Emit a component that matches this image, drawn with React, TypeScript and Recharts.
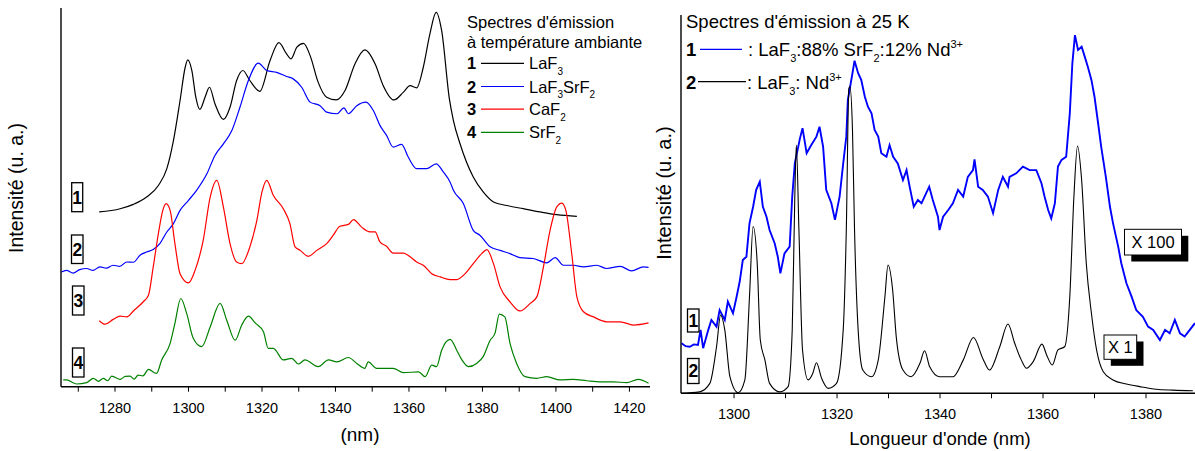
import React from 'react';
import { LineChart, Line, XAxis, YAxis } from 'recharts';

const FONT = '"Liberation Sans", Arial, Helvetica, sans-serif';

// ---------- axis ticks ----------
const leftTicksX = [1270, 1280, 1290, 1300, 1310, 1320, 1330, 1340, 1350, 1360, 1370, 1380, 1390, 1400, 1410, 1420];
const leftLabelsX = [1280, 1300, 1320, 1340, 1360, 1380, 1400, 1420];
const leftTicksY = [0, 1, 2, 3, 4, 5, 6, 7, 8, 9, 10, 11, 12, 13, 14];
const rightTicksX = [1300, 1310, 1320, 1330, 1340, 1350, 1360, 1370, 1380, 1390];
const rightLabelsX = [1300, 1320, 1340, 1360, 1380];
const rightTicksY = [0, 1, 2, 3, 4, 5, 6, 7, 8, 9, 10, 11, 12];

// ---------- left panel: room temperature spectra (nm, offset intensity) ----------
const laf3Room: [number, number][] = [
  [1275.7, 6.46], [1281.4, 6.58], [1285.0, 6.74], [1288.6, 7.01], [1291.8, 7.44], [1294.1, 8.06], [1295.9, 9.1],
  [1297.7, 10.58], [1299.1, 11.81], [1299.8, 12.08], [1300.9, 11.69], [1302.0, 10.7], [1303.1, 10.25], [1304.5, 10.7],
  [1305.7, 11.07], [1307.2, 10.46], [1309.5, 9.88], [1311.3, 10.33], [1313.1, 11.32], [1314.8, 11.69], [1316.7, 11.32],
  [1319.4, 10.92], [1322.2, 12.06], [1324.6, 12.72], [1326.7, 12.3], [1327.9, 12.12], [1329.5, 12.55], [1331.3, 12.69],
  [1333.1, 12.24], [1335.3, 11.25], [1337.6, 10.7], [1340.2, 10.6], [1342.6, 10.95], [1345.3, 11.93], [1348.0, 12.45],
  [1350.8, 11.93], [1353.0, 11.13], [1355.9, 10.6], [1358.5, 10.89], [1360.3, 11.13], [1362.1, 11.05], [1363.9, 11.81],
  [1365.7, 13.04], [1367.4, 13.84], [1368.9, 13.16], [1371.0, 10.64], [1372.1, 9.84], [1373.9, 8.98], [1377.5, 7.75],
  [1380.2, 7.2], [1383.0, 6.83], [1386.6, 6.7], [1391.1, 6.58], [1395.7, 6.46], [1400.2, 6.36], [1405.7, 6.3],
];

const laf3srf2Room: [number, number][] = [
  [1265.4, 4.24], [1266.8, 4.3], [1268.6, 4.2], [1270.4, 4.33], [1272.3, 4.37], [1274.0, 4.3], [1275.9, 4.43], [1277.6, 4.38],
  [1279.5, 4.49], [1281.3, 4.45], [1283.2, 4.61], [1285.0, 4.6], [1286.8, 4.86], [1288.6, 4.98], [1290.4, 5.07], [1292.2, 5.29],
  [1294.1, 5.72], [1295.9, 6.03], [1297.7, 6.52], [1300.0, 6.89], [1302.2, 7.26], [1305.0, 7.87], [1307.2, 8.55],
  [1309.5, 8.98], [1311.8, 9.47], [1314.0, 10.33], [1316.3, 11.32], [1319.0, 11.96], [1321.3, 11.69], [1324.0, 11.62],
  [1326.7, 11.47], [1328.5, 11.38], [1330.8, 11.07], [1333.1, 10.52], [1335.8, 10.39], [1337.6, 10.15], [1340.4, 10.09],
  [1342.3, 10.31], [1343.5, 10.09], [1345.8, 10.39], [1348.3, 10.52], [1350.3, 10.21], [1352.1, 9.66], [1353.9, 9.29],
  [1355.7, 8.86], [1358.0, 8.96], [1359.8, 8.49], [1362.1, 8.06], [1364.8, 8.06], [1367.4, 8.24], [1369.4, 7.93],
  [1371.2, 7.56], [1372.1, 7.26], [1374.8, 6.77], [1377.5, 5.78], [1379.3, 5.6], [1382.1, 5.17], [1384.8, 5.04],
  [1387.5, 4.92], [1390.2, 4.77], [1393.8, 4.74], [1397.5, 4.58], [1399.8, 4.77], [1402.0, 4.49], [1404.7, 4.49],
  [1407.5, 4.43], [1411.1, 4.49], [1413.8, 4.37], [1417.5, 4.45], [1420.6, 4.28], [1423.8, 4.43], [1425.2, 4.41],
];

const caf2Room: [number, number][] = [
  [1275.7, 2.44], [1277.3, 2.31], [1279.5, 2.49], [1281.4, 2.61], [1283.2, 2.58], [1285.0, 2.8], [1287.7, 3.14],
  [1289.1, 3.38], [1290.4, 4.43], [1291.8, 5.66], [1293.0, 6.52], [1293.9, 6.77], [1295.0, 6.52], [1296.3, 5.29],
  [1297.7, 4.18], [1300.0, 3.84], [1301.8, 4.31], [1304.0, 5.41], [1305.9, 7.01], [1307.7, 7.63], [1309.5, 6.64],
  [1311.3, 5.29], [1313.1, 4.61], [1314.5, 4.55], [1316.7, 5.17], [1318.6, 6.15], [1320.0, 7.2], [1321.3, 7.63],
  [1323.1, 7.07], [1325.8, 6.58], [1327.6, 6.03], [1329.0, 5.17], [1330.4, 5.04], [1332.6, 4.82], [1334.9, 5.04],
  [1337.6, 5.29], [1339.4, 5.6], [1341.2, 5.93], [1343.5, 6.0], [1344.9, 6.18], [1347.1, 5.9], [1349.4, 5.72],
  [1350.8, 5.72], [1352.1, 5.35], [1353.9, 5.19], [1355.7, 4.94], [1358.5, 4.94], [1360.3, 4.8], [1362.1, 4.61],
  [1363.9, 4.49], [1366.2, 4.18], [1368.5, 4.06], [1371.2, 3.96], [1373.0, 3.96], [1375.3, 4.18], [1377.5, 4.55],
  [1379.8, 4.92], [1381.2, 5.07], [1383.0, 4.55], [1384.8, 3.69], [1387.5, 3.14], [1390.2, 2.8], [1393.0, 3.08],
  [1394.8, 3.32], [1396.6, 4.43], [1398.4, 5.78], [1400.2, 6.64], [1401.6, 6.79], [1402.7, 6.52], [1404.3, 4.92],
  [1405.7, 3.32], [1407.5, 2.77], [1410.2, 2.58], [1413.8, 2.4], [1417.5, 2.4], [1421.1, 2.28], [1425.2, 2.36],
];

const srf2Room: [number, number][] = [
  [1265.9, 0.25], [1266.8, 0.25], [1269.6, 0.1], [1272.3, 0.15], [1274.1, 0.31], [1275.5, 0.2], [1276.8, 0.31],
  [1278.0, 0.22], [1279.1, 0.39], [1281.4, 0.27], [1282.8, 0.38], [1284.1, 0.39], [1285.2, 0.28], [1286.3, 0.43],
  [1287.6, 0.4], [1289.1, 0.64], [1291.3, 0.49], [1292.7, 0.99], [1295.0, 1.6], [1296.3, 2.34], [1297.9, 3.26],
  [1299.5, 2.71], [1301.3, 1.79], [1303.6, 1.48], [1305.9, 2.21], [1308.6, 3.08], [1310.4, 2.46], [1312.7, 1.72],
  [1314.5, 2.28], [1316.3, 2.61], [1318.2, 2.35], [1320.4, 2.03], [1321.7, 1.42], [1323.1, 1.42], [1325.8, 0.99],
  [1328.1, 1.05], [1329.9, 0.84], [1331.7, 0.99], [1335.3, 0.74], [1338.1, 0.99], [1340.4, 0.92], [1343.5, 1.08],
  [1345.8, 0.86], [1348.0, 0.68], [1348.9, 0.92], [1351.2, 0.68], [1353.5, 0.68], [1355.7, 0.68], [1358.5, 0.52],
  [1362.6, 0.55], [1364.4, 0.37], [1366.2, 0.8], [1367.5, 0.74], [1368.9, 1.35], [1371.2, 1.75], [1373.0, 1.35],
  [1374.4, 0.99], [1376.2, 0.74], [1378.4, 0.86], [1380.2, 1.11], [1382.1, 1.72], [1383.4, 1.97], [1384.6, 2.68],
  [1386.1, 2.58], [1387.5, 1.6], [1389.3, 0.86], [1391.6, 0.37], [1394.8, 0.31], [1397.5, 0.37], [1401.1, 0.25],
  [1404.7, 0.27], [1408.4, 0.22], [1412.0, 0.18], [1415.6, 0.18], [1419.3, 0.15], [1422.4, 0.27], [1425.2, 0.13],
];

// ---------- right panel: 25 K spectra ----------
const mixed25K: [number, number][] = [
  [1289.8, 1.72], [1290.6, 1.62], [1291.4, 1.6], [1292.2, 1.68], [1293.0, 1.66], [1293.5, 2.18], [1294.0, 1.55],
  [1295.0, 2.18], [1295.6, 2.52], [1296.6, 2.29], [1297.2, 2.86], [1298.2, 2.52], [1298.8, 3.15], [1299.8, 2.75],
  [1300.5, 3.32], [1301.1, 3.84], [1301.7, 4.58], [1302.4, 4.69], [1303.0, 5.84], [1303.7, 6.41], [1304.3, 6.99],
  [1305.0, 7.27], [1305.6, 6.41], [1306.3, 6.07], [1306.9, 5.61], [1307.9, 5.15], [1308.5, 4.69], [1309.0, 4.12],
  [1309.8, 4.81], [1310.8, 5.04], [1311.3, 6.76], [1311.8, 7.9], [1312.8, 8.76], [1313.3, 9.11], [1314.1, 8.25],
  [1315.0, 8.53], [1316.0, 8.82], [1316.6, 9.16], [1317.3, 8.47], [1317.9, 6.99], [1318.9, 6.53], [1319.6, 5.96],
  [1320.5, 6.76], [1321.2, 7.9], [1321.8, 8.82], [1322.1, 10.08], [1323.0, 11.0], [1323.4, 11.43], [1324.1, 11.0],
  [1324.7, 10.77], [1325.4, 10.19], [1326.0, 9.85], [1326.7, 9.62], [1327.3, 9.05], [1328.0, 8.82], [1328.6, 8.25],
  [1329.6, 8.13], [1330.2, 8.53], [1330.9, 8.13], [1331.8, 7.9], [1332.8, 7.33], [1333.5, 7.67], [1334.1, 7.1],
  [1334.9, 6.41], [1335.7, 6.64], [1336.4, 6.53], [1337.0, 6.76], [1337.9, 7.1], [1338.6, 6.64], [1339.6, 6.07],
  [1339.9, 5.61], [1340.6, 6.07], [1341.6, 6.3], [1342.5, 6.53], [1343.5, 6.99], [1344.5, 6.76], [1345.4, 7.44],
  [1346.4, 7.67], [1346.7, 8.04], [1347.4, 7.1], [1348.3, 6.99], [1349.3, 6.76], [1350.3, 6.19], [1351.3, 6.99],
  [1352.2, 7.44], [1353.2, 7.1], [1353.5, 7.44], [1354.8, 7.56], [1356.1, 7.79], [1357.4, 7.67], [1358.7, 7.67],
  [1359.7, 7.22], [1360.3, 6.76], [1361.0, 6.3], [1361.6, 6.01], [1362.3, 6.53], [1362.9, 7.79], [1363.6, 8.02],
  [1364.5, 8.13], [1365.2, 9.62], [1365.7, 11.34], [1366.2, 12.31], [1366.8, 11.8], [1367.5, 11.91], [1368.1, 11.57],
  [1368.7, 11.22], [1369.4, 10.77], [1370.0, 10.19], [1370.7, 9.28], [1371.3, 8.47], [1372.2, 7.44], [1373.0, 6.41],
  [1373.6, 5.84], [1374.6, 5.04], [1375.2, 4.47], [1376.2, 3.78], [1377.2, 3.32], [1378.1, 2.86], [1379.4, 2.63],
  [1380.4, 2.29], [1381.4, 2.18], [1382.7, 1.83], [1383.7, 2.18], [1384.6, 2.06], [1385.6, 2.52], [1386.6, 2.06],
  [1387.5, 1.95], [1388.5, 2.18], [1389.5, 2.41],
];

const laf3Nd25K: [number, number][] = [
  [1289.7, 0.0], [1293.3, 0.05], [1295.3, 0.34], [1296.6, 1.6], [1297.4, 2.69], [1298.2, 2.18], [1299.2, 0.57],
  [1300.8, 0.02], [1302.1, 0.46], [1303.0, 3.32], [1303.7, 5.73], [1304.5, 4.47], [1305.1, 1.83], [1306.0, 1.14],
  [1306.9, 0.34], [1308.9, 0.05], [1310.5, 0.23], [1311.3, 2.18], [1311.8, 6.76], [1312.1, 8.53], [1312.6, 5.61],
  [1313.3, 1.49], [1314.4, 0.46], [1315.3, 0.69], [1316.0, 1.05], [1317.0, 0.52], [1318.3, 0.17], [1319.9, 0.34],
  [1321.2, 2.18], [1321.8, 5.61], [1322.3, 10.48], [1322.5, 10.54], [1323.0, 9.05], [1323.4, 5.61], [1324.1, 2.18],
  [1325.0, 0.8], [1326.7, 0.57], [1328.0, 1.14], [1329.3, 3.32], [1329.9, 4.41], [1330.8, 3.55], [1331.5, 1.94],
  [1332.8, 0.8], [1334.4, 0.57], [1336.1, 1.03], [1337.0, 1.46], [1338.0, 0.91], [1339.9, 0.57], [1342.5, 0.57],
  [1344.5, 1.14], [1346.5, 1.92], [1348.3, 1.2], [1349.6, 0.8], [1351.6, 1.6], [1353.2, 2.38], [1354.5, 1.72],
  [1355.8, 1.14], [1356.8, 0.86], [1358.1, 1.09], [1359.8, 1.69], [1360.7, 1.32], [1361.8, 0.97], [1362.9, 1.49],
  [1364.2, 1.6], [1365.2, 3.32], [1366.0, 6.76], [1366.7, 8.5], [1367.5, 7.33], [1368.4, 4.47], [1369.4, 2.75],
  [1370.4, 1.49], [1371.7, 0.74], [1373.6, 0.46], [1376.2, 0.32], [1378.8, 0.23], [1382.0, 0.14], [1385.2, 0.11],
  [1389.1, 0.09],
];

const toPts = (a: [number, number][]) => a.map(([x, y]) => ({ x, y }));

const makeTick = (labels: number[], dy: number, size: number) => (props: any) => {
  const { x, y, payload } = props;
  if (!labels.includes(payload.value)) return <g />;
  return (
    <text x={x} y={y} dy={dy} textAnchor="middle" fontSize={size} fontFamily={FONT} fill="#000">
      {payload.value}
    </text>
  );
};

const axisLine = { stroke: '#000', strokeWidth: 1.4 };
const tickLine = { stroke: '#000', strokeWidth: 1 };

type Seg = { t: string; sub?: boolean; sup?: boolean };

// renders a run of text with subscripts / superscripts
const Rich = ({ segs, size, x, y }: { segs: Seg[]; size: number; x: number; y: number }) => {
  const small = Math.round(size * 0.62);
  const subOff = size * 0.33;
  const supOff = size * 0.42;
  let cur = 0;
  const parts = segs.map((s, i) => {
    const target = s.sub ? subOff : s.sup ? -supOff : 0;
    const dy = target - cur;
    cur = target;
    return (
      <tspan key={i} dy={dy} fontSize={s.sub || s.sup ? small : size}>
        {s.t}
      </tspan>
    );
  });
  return (
    <text x={x} y={y} fontSize={size} fill="#000" fontFamily={FONT}>
      {parts}
    </text>
  );
};

const BoxLabel = ({ x, y, w, h, t }: { x: number; y: number; w: number; h: number; t: string }) => (
  <g>
    <rect x={x} y={y} width={w} height={h} fill="#fff" stroke="#000" strokeWidth={1.3} />
    <text x={x + w / 2} y={y + h / 2 + 6.3} textAnchor="middle" fontWeight="bold" fontSize={17.5} fontFamily={FONT}>
      {t}
    </text>
  </g>
);

const ShadowBox = ({ x, y, w, h, t, size }: { x: number; y: number; w: number; h: number; t: string; size: number }) => (
  <g>
    <rect x={x + 6.8} y={y + 6.5} width={w} height={h} fill="#000" />
    <rect x={x} y={y} width={w} height={h} fill="#fff" stroke="#000" strokeWidth={1} />
    <text x={x + w / 2} y={y + h / 2 + size * 0.36} textAnchor="middle" fontSize={size} fontFamily={FONT}>
      {t}
    </text>
  </g>
);

const leftRows: { n: string; c: string; cy: number; segs: Seg[] }[] = [
  { n: '1', c: '#000000', cy: 63.3, segs: [{ t: 'LaF' }, { t: '3', sub: true }] },
  { n: '2', c: '#0000ff', cy: 86.5, segs: [{ t: 'LaF' }, { t: '3', sub: true }, { t: 'SrF' }, { t: '2', sub: true }] },
  { n: '3', c: '#ff0000', cy: 109.2, segs: [{ t: 'CaF' }, { t: '2', sub: true }] },
  { n: '4', c: '#008000', cy: 132.3, segs: [{ t: 'SrF' }, { t: '2', sub: true }] },
];

export default function App() {
  return (
    <div style={{ position: 'relative', width: 1195, height: 451, overflow: 'hidden', background: '#fff', fontFamily: FONT }}>
      <style>{'body{margin:0;overflow:hidden;}'}</style>
      <div style={{ position: 'absolute', left: 0, top: 0 }}>
        <LineChart width={660} height={451} margin={{ top: 8, right: 10, left: 0, bottom: 0 }}>
          <XAxis
            type="number"
            dataKey="x"
            domain={[1265.3, 1425.6]}
            ticks={leftTicksX}
            interval={0}
            allowDataOverflow
            height={64.3}
            tickSize={5}
            tickMargin={2}
            axisLine={axisLine}
            tickLine={tickLine}
            tick={makeTick(leftLabelsX, 19, 14.5)}
          />
          <YAxis
            type="number"
            dataKey="y"
            domain={[0, 14]}
            ticks={leftTicksY}
            interval={0}
            allowDataOverflow
            width={61}
            tickSize={8}
            axisLine={axisLine}
            tickLine={tickLine}
            tick={false}
          />
          <Line data={toPts(laf3Room)} dataKey="y" type="monotone" stroke="#000000" strokeWidth={1.2} dot={false} isAnimationActive={false} />
          <Line data={toPts(laf3srf2Room)} dataKey="y" type="monotone" stroke="#0000ff" strokeWidth={1.2} dot={false} isAnimationActive={false} />
          <Line data={toPts(caf2Room)} dataKey="y" type="monotone" stroke="#ff0000" strokeWidth={1.2} dot={false} isAnimationActive={false} />
          <Line data={toPts(srf2Room)} dataKey="y" type="monotone" stroke="#008000" strokeWidth={1.2} dot={false} isAnimationActive={false} />
        </LineChart>
      </div>
      <div style={{ position: 'absolute', left: 620, top: 0 }}>
        <LineChart width={590} height={451} margin={{ top: 15, right: 12.5, left: 0, bottom: 0 }}>
          <XAxis
            type="number"
            dataKey="x"
            domain={[1289.7, 1390]}
            ticks={rightTicksX}
            interval={0}
            allowDataOverflow
            height={57.7}
            tickSize={5}
            tickMargin={2}
            axisLine={axisLine}
            tickLine={tickLine}
            tick={makeTick(rightLabelsX, 18.5, 14.5)}
          />
          <YAxis
            type="number"
            dataKey="y"
            domain={[0, 13]}
            ticks={rightTicksY}
            interval={0}
            allowDataOverflow
            width={61}
            tickSize={8}
            axisLine={axisLine}
            tickLine={tickLine}
            tick={false}
          />
          <Line data={toPts(mixed25K)} dataKey="y" type="linear" stroke="#0000ff" strokeWidth={1.9} dot={false} isAnimationActive={false} />
          <Line data={toPts(laf3Nd25K)} dataKey="y" type="monotone" stroke="#000000" strokeWidth={1.1} dot={false} isAnimationActive={false} />
        </LineChart>
      </div>
      <svg width={1195} height={451} style={{ position: 'absolute', left: 0, top: 0, pointerEvents: 'none' }} fontFamily={FONT}>
        {/* left panel */}
        <text transform="translate(23,188) rotate(-90)" textAnchor="middle" fontSize={19.5} fill="#000">Intensité (u. a.)</text>
        <text x={360} y={441} textAnchor="middle" fontSize={19} fill="#000">(nm)</text>
        <text x={467} y={27.5} fontSize={16.5} fill="#000">Spectres d'émission</text>
        <text x={467} y={48} fontSize={16.5} fill="#000">à température ambiante</text>
        {leftRows.map((r) => (
          <g key={r.n}>
            <text x={467} y={r.cy + 6} fontSize={16.5} fontWeight="bold" fill="#000">{r.n}</text>
            <line x1={481} x2={524} y1={r.cy} y2={r.cy} stroke={r.c} strokeWidth={1.2} />
            <Rich x={529} y={r.cy + 6} size={16.5} segs={r.segs} />
          </g>
        ))}
        <BoxLabel x={71.7} y={182.7} w={11} h={29} t="1" />
        <BoxLabel x={71.5} y={235} w={11.5} h={28.5} t="2" />
        <BoxLabel x={72.5} y={286} w={11.5} h={29} t="3" />
        <BoxLabel x={72.5} y={348} w={11.5} h={29} t="4" />

        {/* right panel */}
        <text transform="translate(671,193) rotate(-90)" textAnchor="middle" fontSize={20} fill="#000">Intensité (u. a.)</text>
        <text x={940} y={445} textAnchor="middle" fontSize={18.5} fill="#000">Longueur d'onde (nm)</text>
        <text x={686} y={28} fontSize={18.5} fill="#000">Spectres d'émission à 25 K</text>
        <text x={686} y={56} fontSize={18.5} fontWeight="bold" fill="#000">1</text>
        <line x1={700} x2={742} y1={49.3} y2={49.3} stroke="#0000ff" strokeWidth={1.2} />
        <Rich
          x={748}
          y={56}
          size={18.5}
          segs={[{ t: ': LaF' }, { t: '3', sub: true }, { t: ':88% SrF' }, { t: '2', sub: true }, { t: ':12% Nd' }, { t: '3+', sup: true }]}
        />
        <text x={686} y={88.5} fontSize={18.5} fontWeight="bold" fill="#000">2</text>
        <line x1={698} x2={746} y1={81.7} y2={81.7} stroke="#000" strokeWidth={1.2} />
        <Rich x={747} y={88.5} size={18.5} segs={[{ t: ': LaF' }, { t: '3', sub: true }, { t: ': Nd' }, { t: '3+', sup: true }]} />
        <BoxLabel x={687.5} y={309} w={11.5} h={23} t="1" />
        <BoxLabel x={687.5} y={358.5} w={11.5} h={25} t="2" />
        <ShadowBox x={1124.5} y={229.3} w={57} h={25.7} t="X 100" size={16.5} />
        <ShadowBox x={1104} y={335} w={32.7} h={24.3} t="X 1" size={16.5} />
      </svg>
    </div>
  );
}
